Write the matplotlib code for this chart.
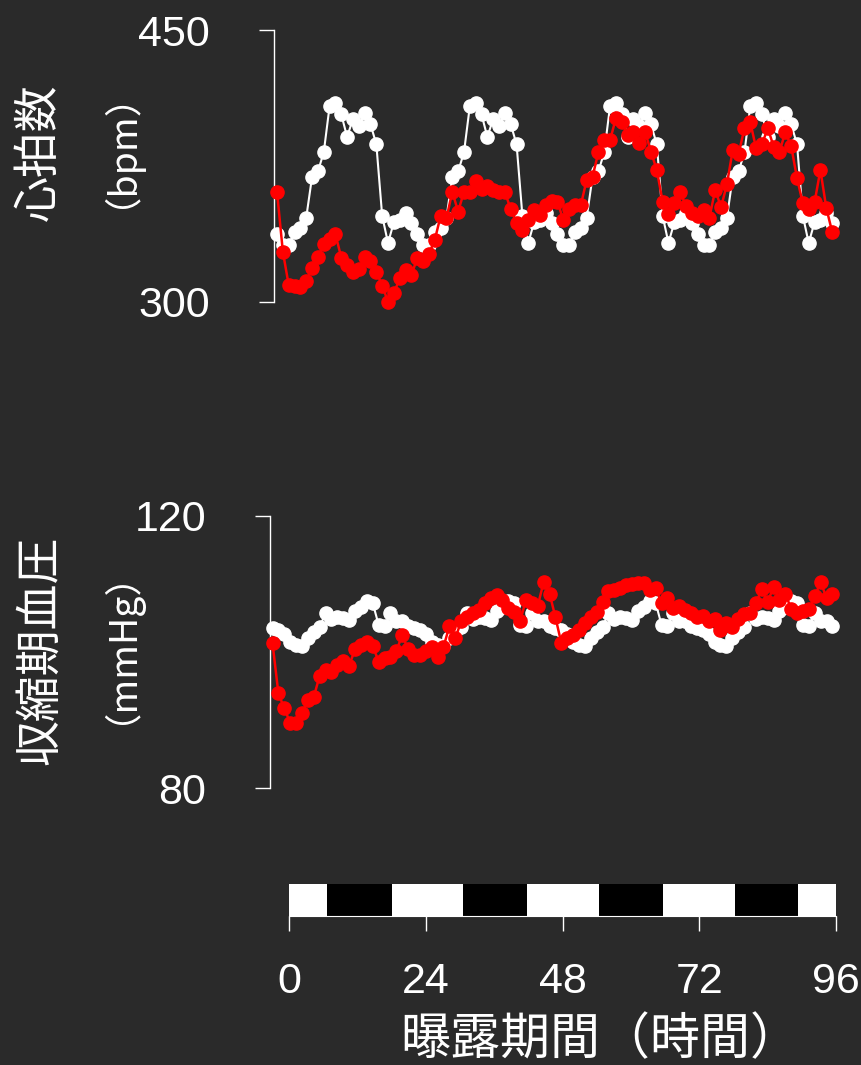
import numpy as np
import matplotlib.pyplot as plt

# hourly means, control (white) and exposed (red)
hr_ctrl = [337.5, 331.5, 331.5, 338.5, 341, 346.5, 369, 372, 382.5, 408, 410, 403.5,
           391, 401, 397, 404.5, 398, 387, 347.5, 332.5, 344, 345, 349, 343.5,
           337.5, 331.5, 331.5, 338.5, 341, 346.5, 369, 372, 382.5, 408, 410, 403.5,
           391, 401, 397, 404.5, 398, 387, 347.5, 332.5, 344, 345, 349, 343.5,
           337.5, 331.5, 331.5, 338.5, 341, 346.5, 369, 372, 382.5, 408, 410, 403.5,
           391, 401, 397, 404.5, 398, 387, 347.5, 332.5, 344, 345, 349, 343.5,
           337.5, 331.5, 331.5, 338.5, 341, 346.5, 369, 372, 382.5, 408, 410, 403.5,
           391, 401, 397, 404.5, 398, 387, 347.5, 332.5, 344, 345, 349, 343.5]
hr_exp = [360.8, 327.8, 309.4, 308.8, 308.1, 311.8, 318.6, 324.6, 332, 334.7,
          337.5, 324.4, 320.4, 316.7, 318, 325, 322.8, 316.7, 309, 300.2,
          304.8, 313, 317.6, 314.9, 324.1, 322.8, 326.5, 334.2, 347.4, 346.1,
          360.8, 349.8, 360.8, 360.8, 366.9, 362.1, 364, 361.8, 360.8, 360.8,
          351.1, 343.4, 339.7, 345.2, 350.7, 348, 353.5, 355.9, 355.3, 345.2,
          351.1, 353.5, 353.5, 367.3, 369.1, 382.5, 389.3, 389.3, 401.3, 399.4,
          392.1, 393.9, 387.5, 393.9, 382.9, 372.8, 355.3, 348.5, 354.4, 360.8,
          352.9, 349.3, 347.4, 350.7, 346.5, 361.8, 352.2, 365, 383.8, 381.6,
          395.8, 399.1, 384.7, 387.1, 395.8, 385.7, 382.9, 393.6, 386, 368.2,
          354.4, 351.1, 355, 372.8, 352, 338.8]
sbp_ctrl = [103.6, 103.2, 102.6, 101.5, 101.0, 100.9, 102.0, 103.0, 103.7, 105.7, 104.8, 105.1,
            105.0, 104.7, 106.0, 106.6, 107.5, 107.2, 104.0, 103.8, 105.7, 104.6, 104.5, 103.8,
            103.6, 103.2, 102.6, 101.5, 101.0, 100.9, 102.0, 103.0, 103.7, 105.7, 104.8, 105.1,
            105.0, 104.7, 106.0, 106.6, 107.5, 107.2, 104.0, 103.8, 105.7, 104.6, 104.5, 103.8,
            103.6, 103.2, 102.6, 101.5, 101.0, 100.9, 102.0, 103.0, 103.7, 105.7, 104.8, 105.1,
            105.0, 104.7, 106.0, 106.6, 107.5, 107.2, 104.0, 103.8, 105.7, 104.6, 104.5, 103.8,
            103.6, 103.2, 102.6, 101.5, 101.0, 100.9, 102.0, 103.0, 103.7, 105.7, 104.8, 105.1,
            105.0, 104.7, 106.0, 106.6, 107.5, 107.2, 104.0, 103.8, 105.7, 104.6, 104.5, 103.8]
sbp_exp = [101.3, 93.9, 91.7, 89.6, 89.5, 91.0, 92.9, 93.4, 96.5, 97.3,
           97.1, 98.1, 98.7, 98.0, 100.4, 101.0, 101.5, 100.9, 98.6, 99.1,
           99.2, 100.1, 102.5, 100.4, 99.6, 99.6, 100.1, 100.7, 99.2, 100.7,
           103.8, 102.0, 104.5, 105.2, 105.7, 106.2, 107.2, 107.9, 108.4, 107.7,
           106.4, 105.9, 104.5, 107.7, 107.2, 106.8, 110.3, 108.6, 105.1, 101.3,
           102.0, 102.5, 103.2, 104.2, 105.1, 105.9, 107.4, 108.9, 109.1, 109.4,
           109.9, 110.0, 110.2, 110.1, 109.1, 109.4, 107.2, 108.0, 106.4, 106.8,
           106.2, 105.8, 105.2, 105.3, 104.5, 104.9, 103.2, 104.2, 103.7, 104.9,
           105.6, 105.7, 107.2, 109.2, 107.4, 109.5, 107.7, 108.6, 106.3, 105.7,
           106.0, 106.3, 108.2, 110.3, 107.9, 108.6]
hours = np.linspace(-2, 96, len(hr_exp))

# light / dark phases (hours)
phase_edges = [0, 6.7, 18, 30.6, 41.8, 54.4, 65.6, 78.2, 89.4, 96]
xticks = [0, 24, 48, 72, 96]

bg = "#2a2a2a"
W, H = 861, 1065
fig = plt.figure(figsize=(W / 100, H / 100), dpi=100, facecolor=bg)
jp = ["Noto Sans CJK JP", "DejaVu Sans"]
num_font = "Liberation Sans"
num_size = 31


def px_axes(left, top, right, bottom):
    a = fig.add_axes([left / W, 1 - bottom / H, (right - left) / W, (bottom - top) / H])
    a.set_facecolor("none")
    return a


def panel(ax, ctrl, exp, ylim, xlim):
    ax.plot(hours, ctrl, "-o", color="white", lw=1.5, ms=9.5, clip_on=False, zorder=2)
    ax.plot(hours, exp, "-o", color="red", lw=1.8, ms=9.5, clip_on=False, zorder=3)
    ax.set_xlim(xlim)
    ax.set_ylim(ylim)
    for s in ["top", "right", "bottom"]:
        ax.spines[s].set_visible(False)
    ax.spines["left"].set_color("white")
    ax.spines["left"].set_linewidth(1)
    ax.spines["left"].set_bounds(*ylim)
    ax.set_xticks([])
    ax.set_yticks(list(ylim))
    ax.tick_params(axis="y", length=11, width=1, colors="white", pad=35, labelsize=num_size)
    for lab in ax.get_yticklabels():
        lab.set_fontfamily(num_font)


ax1 = px_axes(274, 30, 845, 302)
panel(ax1, hr_ctrl, hr_exp, (300, 450), (-2.53, 98.28))

ax2 = px_axes(270, 516, 845, 788)
panel(ax2, sbp_ctrl, sbp_exp, (80, 120), (-2.44, 98.19))

# light-dark bar with time axis
ax3 = px_axes(289, 884, 836, 916)
for i in range(len(phase_edges) - 1):
    ax3.axvspan(phase_edges[i], phase_edges[i + 1],
                color="white" if i % 2 == 0 else "black", lw=0)
ax3.set_xlim(0, 96)
ax3.set_ylim(0, 1)
for s in ["top", "right", "left"]:
    ax3.spines[s].set_visible(False)
ax3.spines["bottom"].set_color("white")
ax3.set_yticks([])
ax3.set_xticks(xticks)
ax3.tick_params(axis="x", length=11, width=1, colors="white", pad=22, labelsize=num_size)
for lab in ax3.get_xticklabels():
    lab.set_fontfamily(num_font)

fig.text(39 / W, 1 - 152 / H, "心拍数", rotation=90, ha="center", va="center",
         fontsize=33, color="white", family=jp)
fig.text(100 / W, 1 - 130 / H, "（bpm）", rotation=90, ha="center", va="center",
         fontsize=27, color="white", family=jp)
fig.text(40 / W, 1 - 650 / H, "収縮期血圧", rotation=90, ha="center", va="center",
         fontsize=33, color="white", family=jp)
fig.text(100 / W, 1 - 628 / H, "（mmHg）", rotation=90, ha="center", va="center",
         fontsize=27, color="white", family=jp)
fig.text(600 / W, 1 - 1040 / H, "曝露期間（時間）", ha="center", va="center",
         fontsize=36, color="white", family=jp)

fig.savefig("out.png", dpi=100, facecolor=bg)
